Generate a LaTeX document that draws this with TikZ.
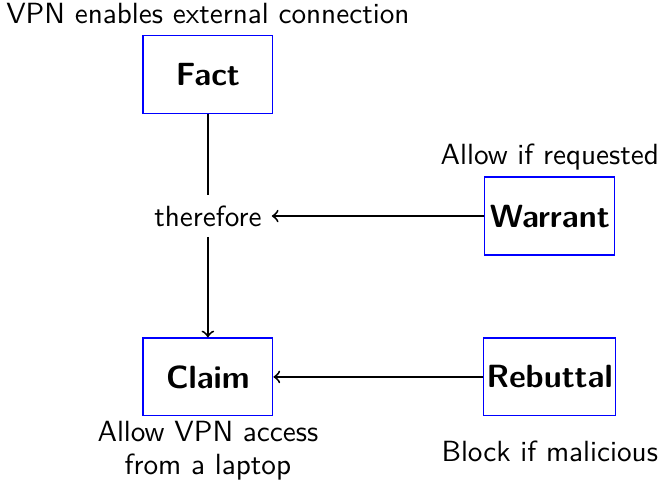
\documentclass[tikz,border=0pt]{standalone}
\usetikzlibrary{positioning}

\begin{document}
\begin{tikzpicture}[node distance={55.1pt}, font=\sffamily,
		box/.style = {draw=blue, font=\sffamily\bfseries\fontsize{11}{13}\selectfont, minimum width=44.5pt, minimum height=26.7pt, inner sep=1pt},
		note/.style = {align=center, font=\sffamily\fontsize{10}{11.4}\selectfont, inner sep=1.5pt},
		link/.style = {line width=0.65pt}]
			\useasboundingbox (-71.2pt,74pt) rectangle (155.2pt,-91.1pt);
			
			\node (therefore) {therefore};
			\node[box, above of = therefore, node distance=48.6pt] (fact) {Fact};
			\node[box, below of = therefore] (claim) {Claim};
			\node[box, right of = therefore, node distance=117.1pt] (warrant) {Warrant};
			\node[box, below of = warrant] (rebuttal) {Rebuttal};
			
			\node[above=0pt of fact] (factnote) {VPN enables external connection};
			\node[above=0pt of warrant, inner sep=2pt] (warrantnote) {Allow if requested};
			\node[note, below=0pt of claim] (claimnote) {Allow VPN access\\from a laptop};
			\node at (rebuttal |- claimnote) (rebuttalnote) {Block if malicious};
			
			\draw[link] (fact) -- (therefore);
			\draw[link, ->] (therefore) -- (claim);
			\draw[link, ->] (warrant) -- (therefore);
			\draw[link, ->] (rebuttal) -- (claim);
		\end{tikzpicture}
\end{document}
